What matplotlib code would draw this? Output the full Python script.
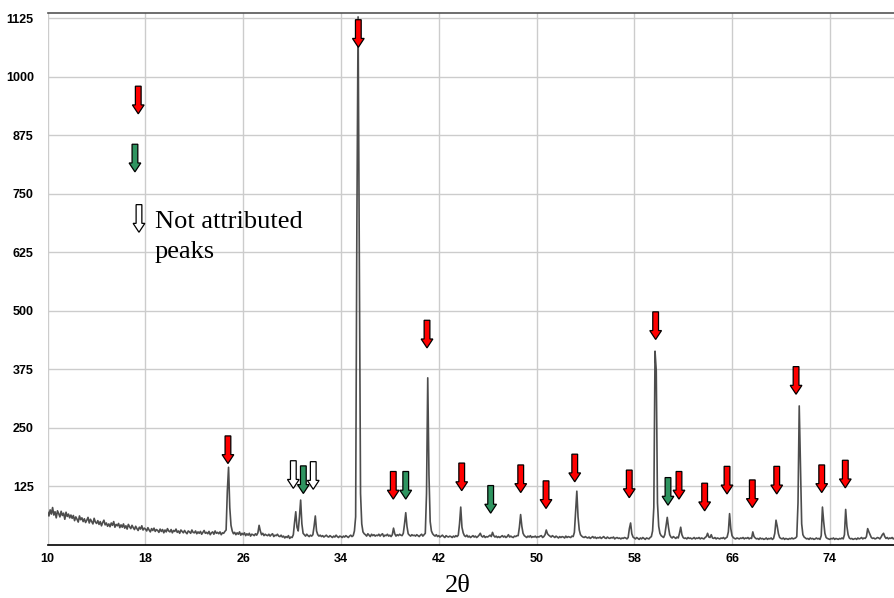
import numpy as np
import matplotlib
matplotlib.use("Agg")
import matplotlib.pyplot as plt
from matplotlib.patches import FancyArrow

# ------------------------------------------------------------------
# Scan data (counts read every 0.1 deg 2theta, starting at 10.0)
# ------------------------------------------------------------------
scan_start = 10.0
scan_step = 0.1

counts_10 = [
    70, 62, 75, 66, 80, 64, 71, 58, 73, 67,
    60, 72, 63, 68, 55, 70, 61, 66, 58, 64,
    57, 63, 52, 60, 55, 49, 62, 54, 58, 50,
    56, 48, 53, 59, 47, 55, 50, 45, 57, 49,
    46, 52, 44, 50, 41, 48, 53, 43, 47, 40,
    45, 39, 47, 42, 50, 38, 44, 41, 46, 37,
    43, 38, 45, 36, 41, 34, 44, 39, 35, 42,
    37, 33, 40, 35, 31, 38, 34, 41, 32, 36,
    34, 30, 37, 32, 28, 35, 31, 36, 29, 33,
    31, 27, 34, 29, 33, 26, 32, 28, 35, 30,
]
counts_20 = [
    28, 33, 26, 31, 29, 34, 27, 30, 25, 32,
    29, 26, 31, 27, 24, 30, 28, 25, 32, 27,
    26, 30, 24, 28, 25, 29, 23, 27, 31, 25,
    27, 24, 29, 22, 26, 28, 23, 30, 25, 27,
    24, 28, 22, 26, 25, 29, 32, 115, 166, 80,
    42, 30, 24, 27, 22, 26, 23, 28, 21, 25,
    22, 26, 20, 24, 21, 25, 19, 23, 22, 20,
    24, 21, 26, 42, 30, 22, 25, 20, 23, 21,
    20, 23, 19, 22, 24, 18, 21, 20, 23, 19,
    18, 21, 17, 19, 15, 18, 16, 20, 14, 17,
]
counts_30 = [
    16, 22, 48, 71, 38, 30, 60, 96, 45, 25,
    22, 19, 23, 20, 18, 21, 19, 22, 40, 62,
    30, 22, 19, 21, 18, 20, 17, 19, 21, 18,
    17, 20, 18, 16, 19, 17, 21, 18, 16, 19,
    18, 16, 19, 17, 20, 18, 16, 19, 21, 18,
    20, 30, 60, 680, 1128, 620, 110, 45, 28, 24,
    22, 19, 24, 21, 18, 23, 20, 22, 19, 21,
    20, 23, 19, 22, 24, 18, 21, 20, 23, 19,
    21, 18, 22, 36, 24, 19, 22, 20, 23, 21,
    20, 25, 45, 69, 40, 24, 21, 19, 22, 20,
]
counts_40 = [
    21, 19, 22, 20, 18, 21, 23, 19, 22, 25,
    110, 357, 150, 50, 30, 24, 21, 19, 22, 18,
    20, 17, 19, 21, 18, 16, 20, 18, 17, 19,
    18, 16, 19, 17, 20, 18, 21, 45, 81, 38,
    26, 20, 18, 21, 17, 19, 16, 18, 20, 17,
    19, 16, 18, 21, 25, 19, 17, 20, 16, 18,
    17, 19, 21, 18, 27, 20, 17, 19, 16, 18,
    16, 18, 20, 17, 19, 16, 18, 22, 17, 19,
    17, 16, 19, 18, 20, 20, 38, 65, 40, 25,
    20, 18, 16, 19, 17, 20, 16, 18, 17, 19,
]
counts_50 = [
    16, 18, 17, 19, 20, 16, 18, 22, 32, 24,
    21, 19, 17, 20, 18, 16, 19, 17, 15, 18,
    16, 18, 17, 15, 19, 16, 18, 17, 16, 19,
    18, 27, 70, 115, 60, 32, 22, 19, 17, 16,
    18, 16, 15, 17, 14, 16, 18, 15, 17, 14,
    16, 15, 17, 14, 16, 18, 15, 14, 17, 15,
    14, 16, 15, 17, 13, 15, 16, 14, 15, 13,
    15, 14, 16, 15, 13, 16, 35, 47, 24, 17,
    15, 13, 16, 14, 12, 15, 13, 16, 14, 12,
    15, 14, 13, 16, 18, 30, 80, 414, 372, 90,
]
counts_60 = [
    40, 25, 20, 18, 16, 22, 40, 59, 38, 22,
    17, 15, 18, 16, 14, 17, 15, 25, 38, 22,
    16, 14, 15, 13, 16, 14, 15, 13, 14, 16,
    13, 15, 14, 16, 13, 15, 14, 13, 16, 18,
    25, 17, 16, 22, 15, 14, 16, 13, 15, 14,
    13, 15, 14, 16, 13, 15, 17, 28, 67, 35,
    20, 16, 14, 13, 15, 14, 13, 15, 14, 16,
    13, 15, 14, 16, 13, 15, 14, 28, 18, 15,
    13, 14, 12, 15, 13, 14, 12, 13, 15, 12,
    14, 13, 15, 12, 14, 25, 53, 40, 24, 16,
]
counts_70 = [
    14, 13, 15, 12, 14, 13, 12, 14, 13, 15,
    13, 14, 15, 18, 90, 297, 170, 45, 22, 17,
    15, 13, 14, 12, 15, 13, 14, 12, 13, 15,
    13, 14, 12, 20, 81, 50, 25, 16, 14, 13,
    12, 14, 13, 15, 12, 14, 13, 12, 14, 13,
    15, 13, 22, 76, 40, 22, 15, 13, 14, 12,
    13, 14, 12, 15, 13, 14, 16, 13, 15, 14,
    18, 35, 28, 22, 16, 14, 15, 13, 14, 16,
    15, 13, 17, 22, 25, 18, 14, 16, 13, 15,
    14, 16, 13, 15,
]

# ------------------------------------------------------------------
# Peak markers: position (2theta), tip height (counts), kind
# ------------------------------------------------------------------
arrow_pos = [24.75, 30.10, 30.92, 31.73, 35.42, 38.28, 39.30, 41.04,
             43.88, 46.25, 48.71, 50.78, 53.13, 57.59, 59.75, 60.76,
             61.66, 63.76, 65.59, 67.66, 69.66, 71.24, 73.34, 75.27]
arrow_tip = [174, 121, 110, 119, 1063, 98, 98, 421,
             116, 68, 112, 78, 135, 101, 439, 85,
             98, 73, 109, 80, 109, 322, 112, 122]
arrow_kind = ['r', 'n', 'g', 'n', 'r', 'r', 'g', 'r',
              'r', 'g', 'r', 'r', 'r', 'r', 'r', 'g',
              'r', 'r', 'r', 'r', 'r', 'r', 'r', 'r']

# legend arrows
legend_pos = [17.41, 17.14, 17.47]
legend_tip = [921, 797, 668]
legend_kind = ['r', 'g', 'n']
legend_text = ['', '', 'Not attributed\npeaks']

kind_colour = {'r': '#ff0000', 'g': '#2f9460', 'n': '#ffffff'}

xticks = [10, 18, 26, 34, 42, 50, 58, 66, 74]
yticks = [125, 250, 375, 500, 625, 750, 875, 1000, 1125]

# ------------------------------------------------------------------
counts = np.array(counts_10 + counts_20 + counts_30 + counts_40
                  + counts_50 + counts_60 + counts_70, dtype=float)
two_theta = scan_start + scan_step * np.arange(len(counts))

W, H = 894, 598
fig = plt.figure(figsize=(W / 100, H / 100), dpi=100)
ax = fig.add_axes([47.7 / W, 53 / H, (W - 47.7) / W, (545 - 13.3) / H])

ax.plot(two_theta, counts, color='#4d4d4d', lw=1.2, zorder=3)

ax.set_xlim(10, 10 + (W - 47.7) / 12.22)
ax.set_ylim(0, 1135.7)
ax.set_xticks(xticks)
ax.set_yticks(yticks)
ax.grid(True, color='#cccccc', lw=1.0, zorder=0)
ax.set_axisbelow(True)

for lab in ax.get_xticklabels() + ax.get_yticklabels():
    lab.set_fontfamily('Liberation Sans')
    lab.set_fontweight('bold')
    lab.set_fontsize(9)
ax.tick_params(axis='x', length=0, pad=6)
ax.tick_params(axis='y', length=0, pad=10)

ax.spines['left'].set_visible(False)
ax.spines['right'].set_visible(False)
ax.spines['top'].set_color('#555555')
ax.spines['top'].set_linewidth(1.2)
ax.spines['bottom'].set_color('black')
ax.spines['bottom'].set_linewidth(1.2)

# arrow size (x in deg, y in counts)
shaft_w = 0.47
head_w = 0.96
head_l = 19
arrow_len = 59


def draw_arrow(x, tip, kind):
    ax.add_patch(FancyArrow(x, tip + arrow_len, 0, -arrow_len,
                            width=shaft_w, head_width=head_w,
                            head_length=head_l, length_includes_head=True,
                            fc=kind_colour[kind], ec='black', lw=0.9,
                            zorder=5))


for x, tip, kind in zip(arrow_pos, arrow_tip, arrow_kind):
    draw_arrow(x, tip, kind)

for x, tip, kind, txt in zip(legend_pos, legend_tip, legend_kind, legend_text):
    draw_arrow(x, tip, kind)
    if txt:
        lines = txt.split('\n')
        for i, line in enumerate(lines):
            ax.text(x + 1.3, tip + 10 - i * 64, line, family='Liberation Serif',
                    fontsize=19, va='baseline', ha='left', zorder=6)

fig.text(457.5 / W, 6 / H, '2θ', family='Liberation Serif', fontsize=19,
         ha='center', va='baseline')

fig.savefig('out.png', dpi=100)
